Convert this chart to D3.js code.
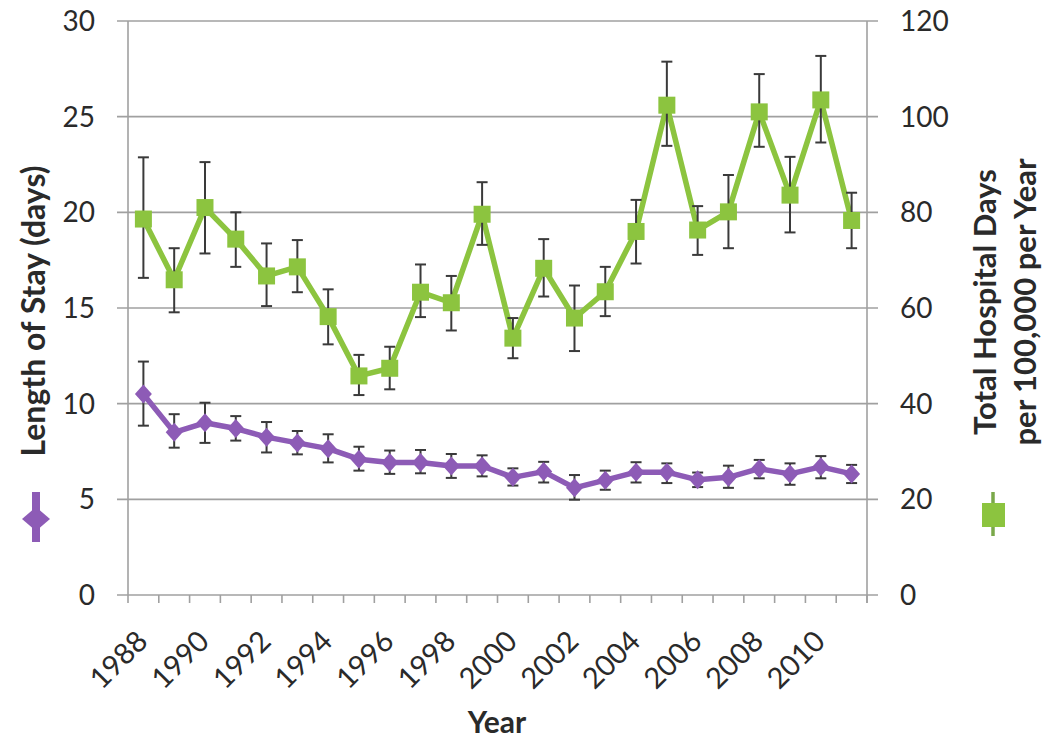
<!DOCTYPE html>
<html>
<head>
<meta charset="utf-8">
<script src="https://cdn.jsdelivr.net/npm/d3@7"></script>
<style>
  html, body { margin: 0; padding: 0; background: #fff; }
  svg { display: block; }
  text { font-family: Lato, "Open Sans", sans-serif; fill: #2a2a2a; }
</style>
</head>
<body>
<script>
// ---- data ----
const years = [1988,1989,1990,1991,1992,1993,1994,1995,1996,1997,1998,1999,2000,2001,2002,2003,2004,2005,2006,2007,2008,2009,2010,2011];
const xTickLabels = [1988,1990,1992,1994,1996,1998,2000,2002,2004,2006,2008,2010];
const leftTicks = [0,5,10,15,20,25,30];
const rightTicks = [0,20,40,60,80,100,120];

// Length of stay (days), left axis
const stay     = [10.5,8.5,9.0,8.7,8.25,7.95,7.65,7.1,6.92,6.92,6.74,6.74,6.15,6.45,5.6,6.0,6.42,6.42,6.02,6.15,6.6,6.33,6.7,6.33];
const stayLow  = [8.85,7.7,7.95,8.07,7.45,7.35,6.93,6.5,6.33,6.36,6.12,6.2,5.72,5.88,4.98,5.5,5.88,5.85,5.64,5.6,6.1,5.76,6.1,5.85];
const stayHigh = [12.2,9.45,10.05,9.35,9.04,8.57,8.4,7.75,7.55,7.58,7.37,7.3,6.62,6.96,6.27,6.5,6.94,6.88,6.4,6.76,7.06,6.88,7.26,6.8];

// Total hospital days per 100,000 per year, right axis
const days     = [78.6,65.9,81.0,74.4,66.7,68.6,58.2,45.8,47.4,63.3,61.1,79.6,53.7,68.3,57.9,63.4,76.0,102.4,76.3,80.1,101.0,83.6,103.5,78.3];
const daysLow  = [66.3,59.1,71.4,68.6,60.4,63.3,52.4,41.8,43.0,58.1,55.3,73.2,49.5,62.4,51.0,58.3,69.3,93.9,71.1,72.5,93.7,75.8,94.6,72.5];
const daysHigh = [91.5,72.5,90.5,80.0,73.5,74.2,63.9,50.2,51.9,69.1,66.7,86.3,57.9,74.4,64.7,68.6,82.6,111.5,81.3,87.8,108.9,91.6,112.7,84.1];

// ---- layout ----
const W = 1050, H = 748;
const m = { left: 128, right: 183, top: 21, bottom: 153 };
const iw = W - m.left - m.right;  // 739
const ih = H - m.top - m.bottom;  // 574

const purple = "#8d5bb6";
const green = "#8cc43f";
const gridCol = "#a0a0a0";
const errCol = "#3a3a3a";

const svg = d3.select("body").append("svg").attr("width", W).attr("height", H);
const g = svg.append("g").attr("transform", `translate(${m.left},${m.top})`);

const x = d3.scaleBand().domain(years).range([0, iw]);
const yL = d3.scaleLinear().domain([0, 30]).range([ih, 0]);
const yR = d3.scaleLinear().domain([0, 120]).range([ih, 0]);

// gridlines (with outer tick extension)
g.append("g").selectAll("line").data(leftTicks).join("line")
  .attr("x1", -11).attr("x2", iw + 11)
  .attr("y1", d => yL(d)).attr("y2", d => yL(d))
  .attr("stroke", gridCol).attr("stroke-width", 1.6);

// vertical axis lines
g.append("line").attr("x1", 0).attr("x2", 0).attr("y1", 0).attr("y2", ih)
  .attr("stroke", gridCol).attr("stroke-width", 1.6);
g.append("line").attr("x1", iw).attr("x2", iw).attr("y1", 0).attr("y2", ih + 8)
  .attr("stroke", gridCol).attr("stroke-width", 1.6);

// x ticks at category boundaries
const bounds = years.map(d => x(d)).concat([iw]);
g.append("g").selectAll("line").data(bounds).join("line")
  .attr("x1", d => d).attr("x2", d => d).attr("y1", ih).attr("y2", ih + 8)
  .attr("stroke", gridCol).attr("stroke-width", 1.6);

// y tick labels
g.append("g").selectAll("text").data(leftTicks).join("text")
  .attr("x", -33).attr("y", d => yL(d)).attr("dy", "0.36em")
  .attr("text-anchor", "end").style("font-size", "28px").text(d => d);
g.append("g").selectAll("text").data(rightTicks).join("text")
  .attr("x", iw + 33).attr("y", d => yR(d)).attr("dy", "0.36em")
  .attr("text-anchor", "start").style("font-size", "28px").text(d => d);

// x tick labels
g.append("g").selectAll("text").data(xTickLabels).join("text")
  .attr("transform", d => `translate(${x(d) + x.bandwidth()/2 + 6},${ih + 48}) rotate(-45)`)
  .attr("text-anchor", "end").style("font-size", "29px").text(d => d);

// series drawing
function drawSeries(vals, lows, highs, yS, color, shape) {
  const cx = d => x(d) + x.bandwidth() / 2;
  const pts = years.map((yr, i) => ({ yr, v: vals[i], lo: lows[i], hi: highs[i] }));
  const line = d3.line().x(d => cx(d.yr)).y(d => yS(d.v));
  g.append("path").datum(pts).attr("d", line)
    .attr("fill", "none").attr("stroke", color).attr("stroke-width", 5.5).attr("stroke-linejoin", "round");
  const eb = g.append("g").attr("stroke", errCol).attr("stroke-width", 2);
  eb.selectAll("line.v").data(pts).join("line").attr("class", "v")
    .attr("x1", d => cx(d.yr)).attr("x2", d => cx(d.yr)).attr("y1", d => yS(d.lo)).attr("y2", d => yS(d.hi));
  eb.selectAll("line.t").data(pts).join("line").attr("class", "t")
    .attr("x1", d => cx(d.yr) - 5.5).attr("x2", d => cx(d.yr) + 5.5).attr("y1", d => yS(d.hi)).attr("y2", d => yS(d.hi));
  eb.selectAll("line.b").data(pts).join("line").attr("class", "b")
    .attr("x1", d => cx(d.yr) - 5.5).attr("x2", d => cx(d.yr) + 5.5).attr("y1", d => yS(d.lo)).attr("y2", d => yS(d.lo));
  const mk = g.append("g").attr("fill", color);
  if (shape === "diamond") {
    mk.selectAll("path").data(pts).join("path")
      .attr("d", d => { const X = cx(d.yr), Y = yS(d.v); return `M${X},${Y-9.5}L${X+8.5},${Y}L${X},${Y+9.5}L${X-8.5},${Y}Z`; });
  } else {
    mk.selectAll("rect").data(pts).join("rect")
      .attr("x", d => cx(d.yr) - 8.5).attr("y", d => yS(d.v) - 8.5).attr("width", 17).attr("height", 17);
  }
}
drawSeries(days, daysLow, daysHigh, yR, green, "square");
drawSeries(stay, stayLow, stayHigh, yL, purple, "diamond");

// axis titles
svg.append("text").attr("transform", "translate(45,311) rotate(-90)")
  .attr("text-anchor", "middle").style("font-size", "32px").style("font-weight", "bold")
  .text("Length of Stay (days)");
const rt = svg.append("text").attr("transform", "translate(996,302) rotate(-90)")
  .attr("text-anchor", "middle").style("font-size", "31px").style("font-weight", "bold");
rt.append("tspan").attr("x", 0).attr("dy", 0).text("Total Hospital Days");
rt.append("tspan").attr("x", 0).attr("dy", 40).text("per 100,000 per Year");

svg.append("text").attr("x", 497).attr("y", 733)
  .attr("text-anchor", "middle").style("font-size", "30px").style("font-weight", "bold").text("Year");

// legend markers
const lp = svg.append("g");
lp.append("line").attr("x1", 36).attr("x2", 36).attr("y1", 492).attr("y2", 542)
  .attr("stroke", purple).attr("stroke-width", 8);
lp.append("path").attr("d", "M36,507L50,519L36,531L22,519Z").attr("fill", purple);
const lg = svg.append("g");
lg.append("line").attr("x1", 993).attr("x2", 993).attr("y1", 492).attr("y2", 536)
  .attr("stroke", "#7aa84a").attr("stroke-width", 3.5);
lg.append("rect").attr("x", 982).attr("y", 503).attr("width", 23).attr("height", 24).attr("fill", green);
</script>
</body>
</html>
